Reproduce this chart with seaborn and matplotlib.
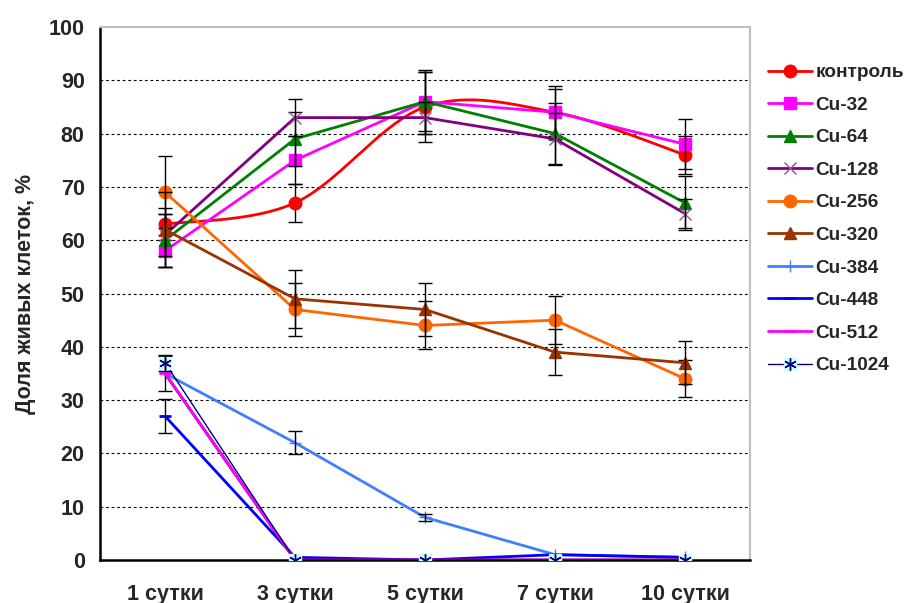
import numpy as np
import matplotlib
matplotlib.use('Agg')
import matplotlib.pyplot as plt
import seaborn as sns
from matplotlib.lines import Line2D
from matplotlib.legend_handler import HandlerTuple

days = ['1 сутки', '3 сутки', '5 сутки', '7 сутки', '10 сутки']

control = [63, 67, 85, 84, 76]
control_err = [3, 3.5, 6.5, 5, 3.5]
cu32 = [58, 75, 86, 84, 78]
cu32_err = [3, 4.5, 6, 4.4, 4.7]
cu64 = [60, 79, 86, 80, 67]
cu64_err = [5, 5, 5.5, 5.7, 5]
cu128 = [61, 83, 83, 79, 65]
cu128_err = [4, 3.5, 3, 4.8, 2.7]
cu256 = [69, 47, 44, 45, 34]
cu256_err = [6.8, 5, 4.5, 4.5, 3.5]
cu320 = [62, 49, 47, 39, 37]
cu320_err = [7, 5.5, 5, 4.3, 4]
cu384 = [35, 22, 8, 1, 0.5]
cu384_err = [3.3, 2.2, 0.7, 0, 0]
cu448 = [27, 0.5, 0, 1, 0.5]
cu448_err = [3.2, 0, 0, 0, 0]
extra_black = [35, 0, 0, 0, 0]
cu512 = [35, 0, 0, 0, 0]
cu1024 = [37, 0, 0, 0, 0]
cu1024_err = [1.5, 0, 0, 0, 0]

sns.set_style('white')
plt.rcParams['font.family'] = ['Liberation Sans', 'DejaVu Sans']
plt.rcParams['font.weight'] = 'bold'

fig = plt.figure(figsize=(9.06, 6.03), dpi=100)
ax = fig.add_axes([100/906, 1-560/603, 650/906, 533/603])

xpos = np.arange(len(days))


def excel_smooth(y, n=40):
    pts = np.column_stack([np.arange(len(y)), np.asarray(y, float)])
    out = []
    for i in range(len(pts) - 1):
        p0 = pts[max(i - 1, 0)]
        p1 = pts[i]
        p2 = pts[i + 1]
        p3 = pts[min(i + 2, len(pts) - 1)]
        c1 = p1 + (p2 - p0) / 6
        c2 = p2 - (p3 - p1) / 6
        t = np.linspace(0, 1, n)[:, None]
        seg = (1-t)**3*p1 + 3*(1-t)**2*t*c1 + 3*(1-t)*t**2*c2 + t**3*p2
        out.append(seg if i == 0 else seg[1:])
    return np.vstack(out)


for yv in range(10, 100, 10):
    ax.axhline(yv, color='black', lw=0.8, ls=(0, (2.5, 2.5)), zorder=0)

series = [
    dict(label='контроль', y=control, err=control_err, color='#FF0000', marker='o', ms=9, lw=2, smooth=True),
    dict(label='Cu-32', y=cu32, err=cu32_err, color='#FF00FF', marker='s', ms=8.5, lw=2),
    dict(label='Cu-64', y=cu64, err=cu64_err, color='#008000', marker='^', ms=9, lw=2),
    dict(label='Cu-128', y=cu128, err=cu128_err, color='#800080', marker='x', ms=8, lw=2, mew=1.0, mec='#9A4C9A'),
    dict(label='Cu-256', y=cu256, err=cu256_err, color='#FF6600', marker='o', ms=9, lw=2),
    dict(label='Cu-320', y=cu320, err=cu320_err, color='#993300', marker='^', ms=9, lw=2),
    dict(label='Cu-384', y=cu384, err=cu384_err, color='#3F7FFF', marker='+', ms=9, lw=2, mew=1.0),
    dict(label='Cu-448', y=cu448, err=cu448_err, color='#0000FF', marker='_', ms=9, lw=2, mew=2),
    dict(label=None, y=extra_black, err=None, color='#000000', marker=None, ms=0, lw=2),
    dict(label='Cu-512', y=cu512, err=None, color='#FF00FF', marker='_', ms=9, lw=2, mew=2),
]

handles = []
labels = []
z = 2
for s in series:
    mec = s.get('mec', s['color'])
    mew = s.get('mew', 1)
    if s.get('smooth'):
        curve = excel_smooth(s['y'])
        sns.lineplot(x=curve[:, 0], y=curve[:, 1], sort=False, ax=ax, color=s['color'],
                     lw=s['lw'], zorder=z, legend=False)
        ax.plot(xpos, s['y'], linestyle='none', marker=s['marker'], ms=s['ms'],
                color=s['color'], mec=mec, mew=mew, zorder=z + 0.5)
    else:
        sns.lineplot(x=xpos, y=s['y'], ax=ax, color=s['color'], lw=s['lw'],
                     marker=s['marker'], markersize=s['ms'], markeredgecolor=mec,
                     markeredgewidth=mew, zorder=z, legend=False)
    if s['err'] is not None:
        err = np.asarray(s['err'])
        m = err > 0
        ax.errorbar(xpos[m], np.asarray(s['y'])[m], yerr=err[m], fmt='none',
                    ecolor='black', elinewidth=1, capsize=5, capthick=1, zorder=z + 0.2)
    if s['label']:
        handles.append(Line2D([], [], color=s['color'], lw=s['lw'], marker=s['marker'],
                              ms=s['ms'], mec=mec, mew=mew))
        labels.append(s['label'])
    z += 1

# Cu-1024: thin navy line, asterisk in light-cyan square
sns.lineplot(x=xpos, y=cu1024, ax=ax, color='#000080', lw=1, zorder=z, legend=False)
ax.plot(xpos, cu1024, linestyle='none', marker='s', ms=9, mfc='#CCFFFF', mec='#CCFFFF', zorder=z + 0.1)
ax.plot(xpos, cu1024, linestyle='none', marker=(6, 2, 0), ms=9, color='#000080', mew=1, zorder=z + 0.2)
err = np.asarray(cu1024_err)
m = err > 0
ax.errorbar(xpos[m], np.asarray(cu1024)[m], yerr=err[m], fmt='none', ecolor='black',
            elinewidth=1, capsize=5, capthick=1, zorder=z + 0.3)
h_sq = Line2D([], [], color='#000080', lw=1, marker='s', ms=9, mfc='#CCFFFF', mec='#CCFFFF')
h_ast = Line2D([], [], linestyle='none', marker=(6, 2, 0), ms=9, color='#000080', mew=1)
handles.append((h_sq, h_ast))
labels.append('Cu-1024')

ax.set_xlim(-0.5, len(days) - 0.5)
ax.set_ylim(0, 100)
ax.set_yticks(range(0, 101, 10))
ax.set_xticks(xpos)
ax.set_xticklabels(days)
ax.set_xticks(np.arange(-0.5, len(days), 1), minor=True)
ax.tick_params(axis='x', which='major', length=0, pad=17, labelsize=15.5)
ax.tick_params(axis='x', which='minor', length=6, width=1.8, direction='out', color='black')
ax.tick_params(axis='y', length=6, width=1.8, direction='out', color='black', labelsize=15.5, pad=5)
for lab in ax.get_xticklabels() + ax.get_yticklabels():
    lab.set_fontweight('bold')

for side in ['left', 'bottom']:
    ax.spines[side].set_color('black')
    ax.spines[side].set_linewidth(1.8)
for side in ['top', 'right']:
    ax.spines[side].set_color('#BFBFBF')
    ax.spines[side].set_linewidth(1.5)

ax.set_xlabel('')
ax.set_ylabel('Доля живых клеток, %', fontsize=15.5, fontweight='bold', labelpad=9)

fig.legend(handles, labels, loc='upper left', bbox_to_anchor=(768/906, 1-64/603),
           frameon=False, handlelength=2.3, handletextpad=0.2, borderpad=0,
           borderaxespad=0, labelspacing=0.8, prop={'weight': 'bold', 'size': 13.7},
           handler_map={tuple: HandlerTuple(ndivide=1, pad=0)})

fig.savefig('out.png', dpi=100)
